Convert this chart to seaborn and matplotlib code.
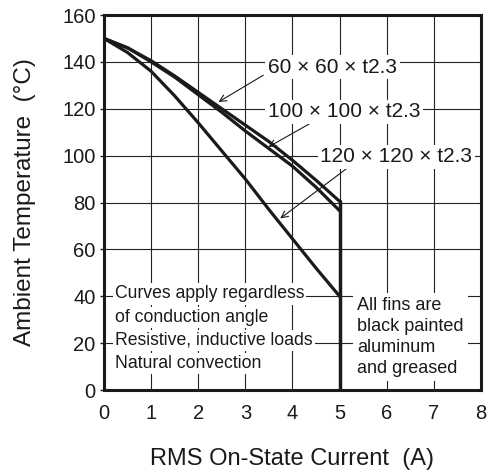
import pandas as pd
import seaborn as sns
import matplotlib.pyplot as plt

# RMS on-state current (A)
current = [0, 0.5, 1, 1.5, 2, 2.5, 3, 3.5, 4, 4.5, 5]

# ambient temperature (°C) for each fin size
temp_60 = [150, 146, 140.5, 134, 127, 120, 113, 106, 98, 89.5, 80.5]
temp_100 = [150, 146, 140, 133.5, 126, 118.5, 110.5, 103, 95.5, 86.5, 76.5]
temp_120 = [150, 144, 136, 125.5, 114, 102, 90, 77, 64.5, 52, 40]

fin_labels = ['60 × 60 × t2.3', '100 × 100 × t2.3', '120 × 120 × t2.3']

x_ticks = [0, 1, 2, 3, 4, 5, 6, 7, 8]
y_ticks = [0, 20, 40, 60, 80, 100, 120, 140, 160]

left_notes = ['Curves apply regardless', 'of conduction angle',
              'Resistive, inductive loads', 'Natural convection']
right_note = 'All fins are\nblack painted\naluminum\nand greased'

df = pd.concat([
    pd.DataFrame({'current': current, 'temp': t, 'fin': lab})
    for t, lab in zip([temp_60, temp_100, temp_120], fin_labels)
])

sns.set_style('white')
plt.rcParams['font.family'] = ['Liberation Sans', 'DejaVu Sans']

fig = plt.figure(figsize=(4.91, 4.72), dpi=100)
ax = fig.add_axes([0.2118, 0.1737, 0.7678, 0.7945])

sns.lineplot(data=df, x='current', y='temp', hue='fin',
             palette=['#1a1a1a'] * 3, linewidth=2.3, legend=False,
             ax=ax, zorder=3)
# drop at the maximum current
ax.plot([current[-1], current[-1]], [0, temp_60[-1]], color='#1a1a1a',
        linewidth=2.5, zorder=3)

ax.set_xlim(0, 8)
ax.set_ylim(0, 160)
ax.set_xticks(x_ticks)
ax.set_yticks(y_ticks)
ax.grid(True, color='#222222', linewidth=0.8)
ax.set_axisbelow(True)

for s in ax.spines.values():
    s.set_linewidth(2.2)
    s.set_color('#1a1a1a')

ax.tick_params(axis='x', length=0, pad=10, labelsize=14.5, colors='#1a1a1a')
ax.tick_params(axis='y', length=3, width=1, pad=3, labelsize=14.5,
               left=True, colors='#1a1a1a')

ax.set_xlabel('RMS On-State Current  (A)', fontsize=17, labelpad=18,
              color='#1a1a1a')
ax.set_ylabel('Ambient Temperature  (°C)', fontsize=17.5, labelpad=19,
              color='#1a1a1a')

box = dict(facecolor='white', edgecolor='none', pad=2)
arrow = dict(arrowstyle='->', color='#1a1a1a', lw=0.8, mutation_scale=12,
             shrinkA=0, shrinkB=0)

# fin size callouts
text_pos = [(3.48, 137.7), (3.48, 118.7), (4.59, 99.5)]
arrow_from = [(3.38, 134.3), (4.37, 113.7), (5.15, 94.5)]
arrow_to = [(2.43, 122.9), (3.49, 103.7), (3.74, 73.2)]
for lab, tp, a0, a1 in zip(fin_labels, text_pos, arrow_from, arrow_to):
    ax.annotate('', xy=a1, xytext=a0, arrowprops=arrow, zorder=4)
    ax.text(tp[0], tp[1], lab, fontsize=15, va='center', ha='left',
            bbox=box, zorder=5, color='#1a1a1a')

for i, note in enumerate(left_notes):
    ax.text(0.23, 41 - i * 9.9, note, fontsize=12.7, va='center', ha='left',
            bbox=dict(facecolor='white', edgecolor='none', pad=1.5),
            zorder=5, color='#1a1a1a')

ax.text(5.37, 22.5, right_note, fontsize=13, va='center', ha='left',
        linespacing=1.3, bbox=dict(facecolor='white', edgecolor='none', pad=3),
        zorder=5, color='#1a1a1a')

plt.savefig('out.png', dpi=100)
